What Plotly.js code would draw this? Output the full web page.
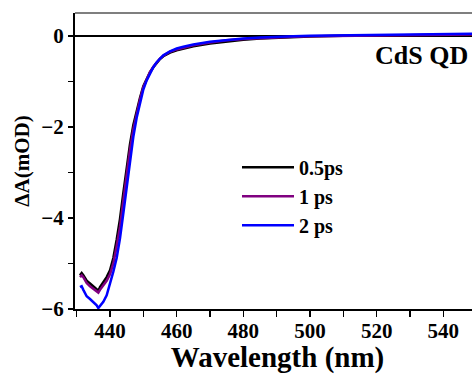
<!DOCTYPE html>
<html>
<head>
<meta charset="utf-8">
<script src="https://cdn.plot.ly/plotly-3.0.1.min.js"></script>
<style>
html,body{margin:0;padding:0;overflow:hidden;background:#fff;}
#chart{width:480px;height:374px;}
</style>
</head>
<body>
<div id="chart"></div>
<script>
// Wavelength (nm)
var wavelength = [431, 431.5, 432, 433, 434, 435, 436, 436.5, 437, 438, 439, 440, 441, 442, 443, 444, 445, 446, 447, 448, 449, 450, 451, 452, 453, 454, 455, 456, 458, 460, 462, 465, 470, 475, 480, 485, 490, 495, 500, 510, 520, 530, 540, 550];
// ΔA (mOD) at 0.5 ps
var dA_05ps = [-5.26, -5.21, -5.26, -5.38, -5.44, -5.50, -5.55, -5.60, -5.52, -5.42, -5.30, -5.15, -4.88, -4.48, -4.02, -3.45, -2.90, -2.38, -1.96, -1.64, -1.36, -1.11, -0.94, -0.80, -0.69, -0.59, -0.51, -0.45, -0.37, -0.32, -0.28, -0.23, -0.17, -0.12, -0.085, -0.06, -0.04, -0.025, -0.015, 0.0, 0.01, 0.015, 0.02, 0.025];
// ΔA (mOD) at 1 ps
var dA_1ps = [-5.30, -5.26, -5.30, -5.43, -5.50, -5.56, -5.60, -5.64, -5.58, -5.47, -5.38, -5.24, -5.00, -4.62, -4.20, -3.62, -3.05, -2.50, -2.05, -1.70, -1.40, -1.13, -0.95, -0.80, -0.68, -0.58, -0.50, -0.44, -0.35, -0.30, -0.26, -0.21, -0.15, -0.10, -0.07, -0.05, -0.03, -0.02, -0.01, 0.0, 0.01, 0.015, 0.025, 0.03];
// ΔA (mOD) at 2 ps
var dA_2ps = [-5.52, -5.50, -5.58, -5.72, -5.78, -5.84, -5.92, -5.98, -5.94, -5.84, -5.70, -5.45, -5.18, -4.88, -4.45, -3.90, -3.30, -2.72, -2.22, -1.80, -1.47, -1.18, -0.98, -0.82, -0.69, -0.58, -0.50, -0.43, -0.34, -0.28, -0.24, -0.19, -0.13, -0.09, -0.06, -0.04, -0.02, -0.01, 0.0, 0.01, 0.02, 0.03, 0.04, 0.045];
var seriesNames = ["0.5ps", "1 ps", "2 ps"];
var seriesColors = ["#000000", "#800080", "#0000ff"];

var FONT = "Liberation Serif";
var series = [dA_05ps, dA_1ps, dA_2ps];
var traces = series.map(function(s, i){
  return {x: wavelength, y: s, type: "scatter", mode: "lines", name: seriesNames[i],
          line: {color: seriesColors[i], width: 2.5}};
});

function f(size){ return {family: FONT, size: size, weight: "bold", color: "#000"}; }

var layout = {
  width: 480, height: 374,
  margin: {l: 75, r: 0, t: 13, b: 65},
  paper_bgcolor: "#fff", plot_bgcolor: "#fff",
  font: {family: FONT, color: "#000"},
  showlegend: true,
  legend: {x: 0.4, y: 0.545, xanchor: "left", yanchor: "top", bgcolor: "rgba(0,0,0,0)",
           font: f(20), itemwidth: 52, tracegroupgap: 0},
  xaxis: {
    range: [429.5, 551], dtick: 20, tick0: 440,
    ticks: "outside", ticklen: 6, tickwidth: 1.5, tickcolor: "#000",
    minor: {dtick: 10, ticks: "outside", ticklen: 6, tickwidth: 1.5, tickcolor: "#000"},
    showline: true, linecolor: "#000", linewidth: 2,
    showgrid: false, zeroline: false,
    ticklabelstandoff: -4,
    tickfont: f(21),
    title: {text: "Wavelength (nm)", font: f(29), standoff: 2}
  },
  yaxis: {
    range: [-6, 0.5], dtick: 2, tick0: 0,
    ticks: "outside", ticklen: 5, tickwidth: 1.5, tickcolor: "#000",
    minor: {dtick: 1, ticks: "outside", ticklen: 5, tickwidth: 1.5, tickcolor: "#000"},
    showline: true, linecolor: "#000", linewidth: 2,
    showgrid: false, zeroline: true, zerolinecolor: "#000", zerolinewidth: 2,
    tickfont: f(21),
    title: {text: "ΔA(mOD)", font: f(21), standoff: 6}
  },
  shapes: [
    {type: "line", xref: "paper", yref: "paper", x0: 0, x1: 1, y0: 1, y1: 1,
     line: {color: "#000", width: 1.2}}
  ],
  annotations: [
    {text: "CdS QD", xref: "paper", yref: "paper", x: 0.975, y: 0.858, xanchor: "right", yanchor: "middle",
     showarrow: false, font: f(26)}
  ]
};

Plotly.newPlot("chart", traces, layout, {displayModeBar: false, staticPlot: true});
</script>
</body>
</html>
